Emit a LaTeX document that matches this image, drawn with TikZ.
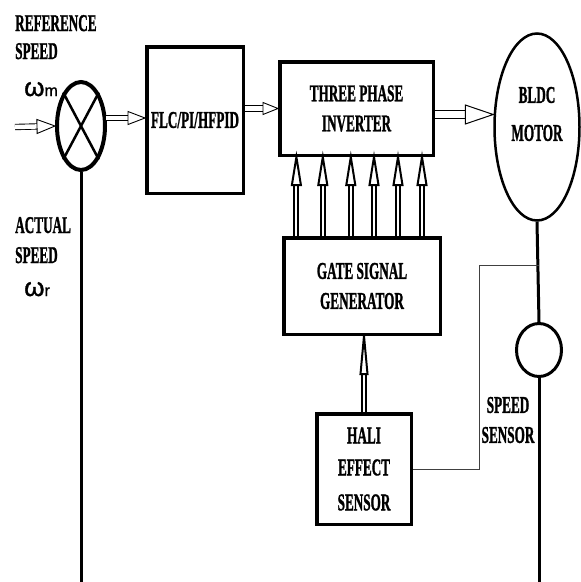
\documentclass[tikz,border=0pt]{standalone}
\usepackage{fontspec}
\setmainfont{Liberation Serif}[BoldFeatures={FakeBold=1.6}]
\newfontfamily\arialf{Liberation Sans}[FakeBold=1.2]
\usepackage{graphicx}
\usetikzlibrary{arrows.meta,shapes.geometric,calc}
\newcommand\sq[1]{\scalebox{0.55}[1]{#1}}
% shaft style, head style, head length, head half width, from, to
\newcommand\hollow[6]{%
  \draw[#1] (#5) -- (#6);
  \path ($(#6)!#3!(#5)$) coordinate (hb);
  \filldraw[#2] (#6) -- ($(hb)!#4!90:(#6)$) -- ($(hb)!#4!-90:(#6)$) -- cycle;}
\begin{document}
\begin{tikzpicture}[x=1pt,y=-1pt,
  box/.style={draw, line width=3.5pt, inner sep=0pt},
  lbl/.style={font=\bfseries\fontsize{24}{30}\selectfont, align=center, inner sep=0pt},
  wire/.style={line width=3pt},
  thinw/.style={line width=1pt, draw=black!75},
  hshaft/.style={line width=0.9pt, double, double distance=4.5pt},
  hhead/.style={line width=0.9pt, fill=white, line join=miter},
  gshaft/.style={line width=2pt, double, double distance=2pt},
  ghead/.style={line width=2pt, fill=white, line join=miter},
  omg/.style={font=\arialf\fontsize{26}{26}\selectfont, inner sep=0pt, anchor=base west}
]
\useasboundingbox (0,0) rectangle (581,582);

% ---- blocks ----
\node[ellipse, draw, line width=4pt, minimum width=48, minimum height=88, inner sep=0pt] (sum) at (81,126) {};
\draw[line width=2.5pt] (sum.62) -- (sum.242) (sum.118) -- (sum.298);

\node[box, lbl, minimum width=96.5, minimum height=146.5] (flc) at (195,120) {\sq{FLC/PI/HFPID}};
\node[box, lbl, minimum width=153.5, minimum height=93.5] (inv) at (356.5,108.5) {\sq{THREE PHASE}\\\sq{INVERTER}};
\node[box, lbl, minimum width=156.5, minimum height=96.5] (gate) at (362,286) {\sq{GATE SIGNAL}\\\sq{GENERATOR}};
\node[box, lbl, minimum width=94.5, minimum height=110.5] (hall) at (364,469) {\sq{HALI}\\[2pt]\sq{EFFECT}\\[5pt]\sq{SENSOR}};

\node[ellipse, draw, line width=2.5pt, minimum width=85, minimum height=187, inner sep=0pt] (motor) at (537,127) {};
\node[lbl] (motortxt) at (537,114) {\sq{BLDC}\\[8pt]\sq{MOTOR}};

\node[ellipse, draw, line width=3pt, minimum width=45, minimum height=53, inner sep=0pt] (spd) at (539,350) {};
\node[lbl] (spdtxt) at (508,420) {\sq{SPEED}\\\sq{SENSOR}};

% ---- left labels ----
\node[lbl, anchor=base west] (ref1) at (15,31) {\sq{REFERENCE}};
\node[lbl, anchor=base west] (ref2) at (15,59) {\sq{SPEED}};
\node[omg] (wm) at (24,96) {ω{\fontsize{16}{16}\selectfont m}};
\node[lbl, anchor=base west] (act1) at (15,233) {\sq{ACTUAL}};
\node[lbl, anchor=base west] (act2) at (15,263) {\sq{SPEED}};
\node[omg] (wr) at (24,296) {ω{\fontsize{16}{16}\selectfont r}};

% ---- coordinates ----
\coordinate (refin) at (15,127);
\coordinate (sumend) at (81,582);
\coordinate (spdend) at (539,582);
\coordinate (tap) at (539,265);
\coordinate (bend) at (479,265);
\path (sum.east) ++(-1,-8) coordinate (s1);
\path (s1 -| flc.west) coordinate (f1);
\path (flc.east |- inv.west) coordinate (f2);
\path (inv.east) ++(0,6) coordinate (i1);
\path (i1 -| motor.west) coordinate (m1);
\path (hall.north |- gate.south) coordinate (g1);

% ---- wires ----
\draw[wire] (sum.south) -- (sumend);
\draw[wire] (motor.south) -- (spd.north);
\draw[wire] (spd.south) -- (spdend);
\draw[thinw] (tap) -- (bend) |- (hall.east);

% ---- hollow arrows ----
\hollow{hshaft, shorten >=16pt}{hhead}{18pt}{7pt}{refin}{sum.west}
\hollow{hshaft, shorten >=15pt}{hhead}{17pt}{6.5pt}{s1}{f1}
\hollow{hshaft, shorten >=13pt}{hhead}{15pt}{6pt}{f2}{inv.west}
\hollow{hshaft, line width=1pt, double distance=7pt, shorten >=26pt}{hhead, line width=1pt}{28pt}{9.5pt}{i1}{m1}

\foreach \f [count=\i] in {0.09,0.255,0.43,0.575,0.725,0.875} {
  \path ($(gate.north west)!\f!(gate.north east)$) coordinate (gb\i);
  \path (gb\i |- inv.south) coordinate (gt\i);
  \hollow{gshaft, shorten >=26pt}{ghead}{28pt}{4.5pt}{gb\i}{gt\i}
}
\hollow{gshaft, shorten >=36pt}{ghead}{38pt}{3.5pt}{hall.north}{g1}
\end{tikzpicture}
\end{document}
